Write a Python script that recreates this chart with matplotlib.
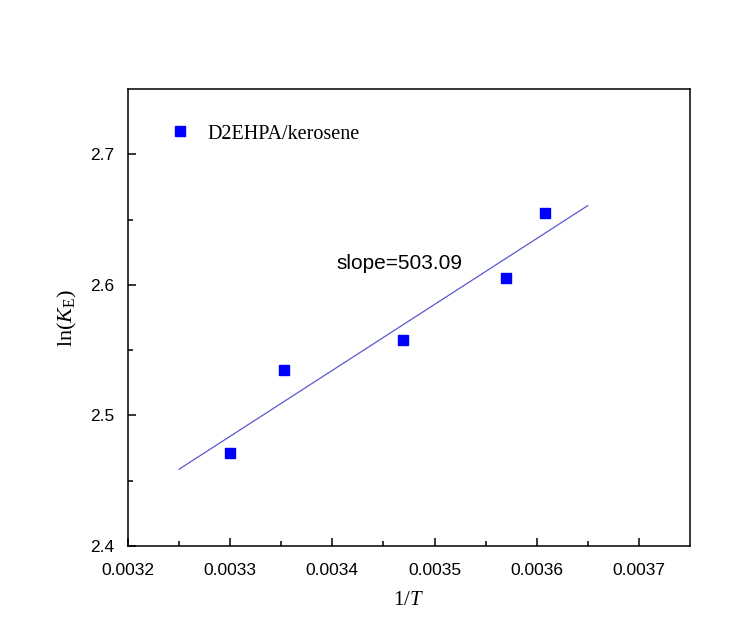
import numpy as np
import matplotlib
matplotlib.use("Agg")
import matplotlib.pyplot as plt

# 1/T values and ln(KE)
inv_T = [0.003300, 0.003353, 0.003469, 0.003570, 0.003608]
ln_KE = [2.471, 2.535, 2.558, 2.605, 2.655]
series_name = "D2EHPA/kerosene"
slope_label = "slope=503.09"
fit_range = [0.00325, 0.00365]

xticks = [0.0032, 0.0033, 0.0034, 0.0035, 0.0036, 0.0037]
xtick_labels = ["0.0032", "0.0033", "0.0034", "0.0035", "0.0036", "0.0037"]
yticks = [2.4, 2.5, 2.6, 2.7]
ytick_labels = ["2.4", "2.5", "2.6", "2.7"]

plt.rcParams["mathtext.fontset"] = "custom"
plt.rcParams["mathtext.rm"] = "Liberation Serif"
plt.rcParams["mathtext.it"] = "Liberation Serif:italic"

fig = plt.figure(figsize=(7.56, 6.41), dpi=100)
ax = fig.add_axes([0.1693, 0.1482, 0.7434, 0.713])

# linear fit drawn over the fixed range
k, b = np.polyfit(inv_T, ln_KE, 1)
xf = np.array(fit_range)
ax.plot(xf, k * xf + b, color="#5a5ad0", lw=0.9, zorder=2)

ax.plot(inv_T, ln_KE, ls="none", marker="s", ms=7, color="#0000ff",
        mec="#0000ff", label=series_name, zorder=3)

ax.set_xlim(0.0032, 0.00375)
ax.set_ylim(2.4, 2.75)
ax.set_xticks(xticks)
ax.set_xticklabels(xtick_labels, family="Liberation Sans", fontsize=12.5)
ax.set_yticks(yticks)
ax.set_yticklabels(ytick_labels, family="Liberation Sans", fontsize=12.5)
ax.set_xticks(np.arange(0.00325, 0.00375, 0.0001), minor=True)
ax.set_yticks(np.arange(2.45, 2.75, 0.1), minor=True)
ax.tick_params(which="both", direction="in", top=False, right=False, width=1.1)
ax.tick_params(which="major", length=6)
ax.tick_params(axis="x", which="major", pad=12)
ax.tick_params(axis="y", which="major", pad=10)
ax.tick_params(which="minor", length=3.5)
for sp in ax.spines.values():
    sp.set_linewidth(1.1)

ax.set_xlabel(r"$1/\mathit{T}$", fontsize=15, labelpad=8)
ax.set_ylabel(r"$\mathrm{ln}(\mathit{K}_{\mathrm{E}})$", fontsize=16, labelpad=8)

ax.text(0.3706, 0.605, slope_label, transform=ax.transAxes,
        family="Liberation Sans", fontsize=15)

ax.legend(loc="upper left", bbox_to_anchor=(0.063, 0.94), frameon=False,
          prop={"family": "Liberation Serif", "size": 14.5},
          handlelength=0.8, handletextpad=1.0, borderaxespad=0)

fig.savefig("out.png", dpi=100)
